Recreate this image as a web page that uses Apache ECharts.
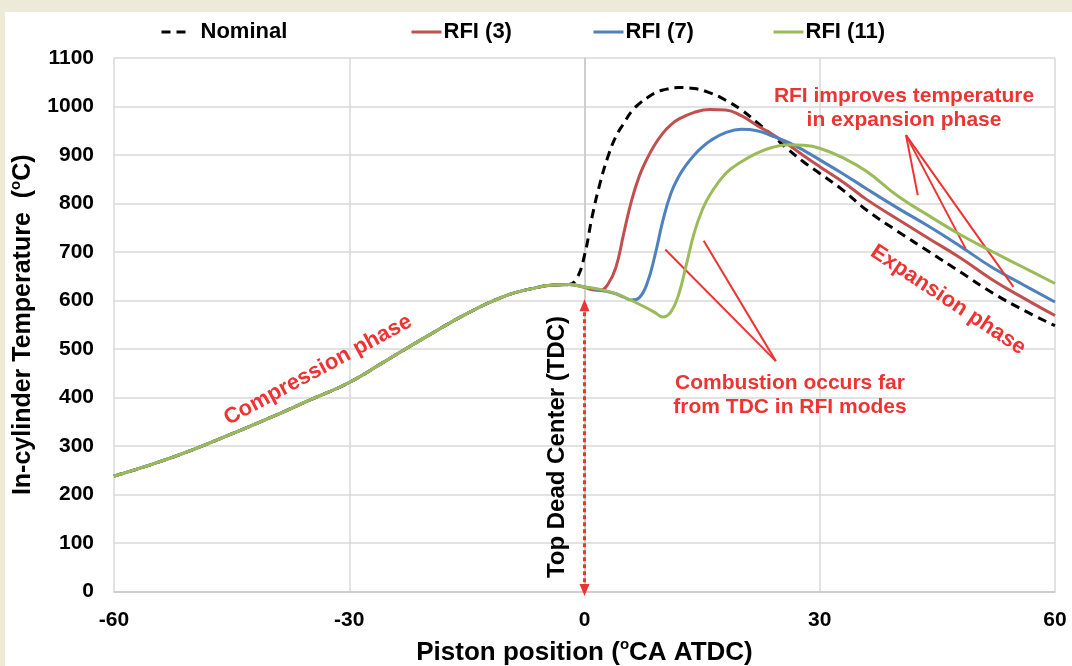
<!DOCTYPE html>
<html>
<head>
<meta charset="utf-8">
<script src="https://cdn.jsdelivr.net/npm/echarts@6/dist/echarts.min.js"></script>
<style>
  html, body { margin: 0; padding: 0; background: #EDEBD8; width: 1072px; height: 666px; overflow: hidden; }
  #chart { position: absolute; left: 5px; top: 12px; width: 1067px; height: 654px; background: #ffffff; }
</style>
</head>
<body>
<div id="chart"></div>
<script>
// ---- Data (crank angle in °CA ATDC, temperature in °C) ----
const xTicks = [-60, -30, 0, 30, 60];

// shared compression stroke (all four cases coincide)
const compAngle = [-60, -55, -50, -45, -40, -35, -30, -25, -20, -15, -10, -6, -4, -2];
const compTemp  = [238, 263, 292, 325, 359, 395, 431, 479, 527, 573, 610, 627, 632, 633];

const nominalAngle = [-1, 0, 1, 2, 3, 4, 5, 6, 7, 8, 9, 10, 12, 14, 16, 18, 20, 22, 24, 26, 28, 30, 33, 36, 40, 44, 48, 52, 56, 60];
const nominalTemp  = [645, 693, 775, 843, 897, 938, 965, 990, 1006, 1018, 1028, 1034, 1039, 1037, 1028, 1013, 993, 967, 940, 911, 885, 862, 827, 786, 742, 700, 658, 616, 580, 548];

const rfi3Angle = [0, 1, 2, 3, 4, 5, 6, 7, 8, 9, 10, 11, 12, 14, 16, 18, 20, 22, 24, 26, 28, 30, 33, 36, 40, 44, 48, 52, 56, 60];
const rfi3Temp  = [627, 622, 621, 634, 668, 738, 806, 857, 893, 922, 945, 962, 974, 988, 994, 993, 981, 961, 942, 921, 898, 876, 844, 808, 767, 727, 687, 643, 605, 569];

const rfi7Angle = [0, 2, 3, 4, 5, 6, 7, 8, 9, 10, 11, 12, 13, 14, 15, 16, 18, 20, 22, 24, 26, 28, 30, 33, 36, 40, 44, 48, 52, 56, 60];
const rfi7Temp  = [628, 621, 618, 614, 607, 601, 606, 636, 694, 765, 820, 855, 880, 900, 916, 929, 946, 953, 950, 939, 926, 909, 890, 861, 830, 790, 752, 711, 668, 632, 597];

const rfi11Angle = [0, 2, 4, 6, 8, 9, 10, 11, 12, 13, 14, 15, 16, 18, 20, 22, 24, 26, 28, 30, 33, 36, 40, 44, 48, 52, 56, 60];
const rfi11Temp  = [628, 623, 614, 600, 584, 575, 566, 576, 612, 675, 740, 786, 818, 862, 886, 904, 916, 921, 920, 914, 894, 866, 815, 774, 735, 701, 668, 635];

// annotation anchor points in data space
const tdcArrow = [[0, 590], [0, 3]];
const rfiPointerFrom = [41, 941];
const rfiPointerTo = [[42.5, 817], [48.6, 707], [54.7, 628]];
const combPointerFrom = [[10.3, 705], [15.2, 723]];
const combPointerTo = [24.4, 475];

// ---- Build ----
function pairs(a1, t1, a2, t2) {
  const out = [];
  for (let i = 0; i < a1.length; i++) out.push([a1[i], t1[i]]);
  for (let i = 0; i < a2.length; i++) out.push([a2[i], t2[i]]);
  return out;
}

const FONT = '"Liberation Sans", Arial, sans-serif';
const RED = '#EE3333';

const chart = echarts.init(document.getElementById('chart'), null, { renderer: 'canvas' });

const annotLines = [];
annotLines.push([
  { coord: tdcArrow[0], symbol: 'triangle', symbolSize: [10, 12], lineStyle: { type: [4, 3], width: 3, color: RED } },
  { coord: tdcArrow[1], symbol: 'triangle', symbolSize: [10, 12] }
]);
rfiPointerTo.forEach(p => annotLines.push([
  { coord: rfiPointerFrom, symbol: 'none', lineStyle: { type: 'solid', width: 2, color: RED } },
  { coord: p, symbol: 'none' }
]));
combPointerFrom.forEach(p => annotLines.push([
  { coord: p, symbol: 'none', lineStyle: { type: 'solid', width: 2, color: RED } },
  { coord: combPointerTo, symbol: 'none' }
]));

const legendCommon = {
  top: 9, itemWidth: 30, itemHeight: 14, itemGap: 5, padding: 0,
  textStyle: { fontFamily: FONT, fontWeight: 'bold', fontSize: 22, color: '#000', padding: [0, 0, 0, -3] },
  itemStyle: { opacity: 0 },
  lineStyle: { width: 3 },
  selectedMode: false
};

const option = {
  animation: false,
  backgroundColor: '#ffffff',
  textStyle: { fontFamily: FONT },
  legend: [
    Object.assign({}, legendCommon, { left: 155, data: ['Nominal'], textStyle: Object.assign({}, legendCommon.textStyle, { padding: [0, 0, 0, 4] }) }),
    Object.assign({}, legendCommon, { left: 405, data: ['RFI (3)'] }),
    Object.assign({}, legendCommon, { left: 587, data: ['RFI (7)'] }),
    Object.assign({}, legendCommon, { left: 767, data: ['RFI (11)'] })
  ],
  grid: { left: 109, right: 17, top: 46, bottom: 74.5, containLabel: false, outerBoundsMode: 'none' },
  xAxis: {
    type: 'value', min: -60, max: 60, interval: 30,
    name: '{t|Piston position (}{s|o}{t|CA ATDC)}',
    nameLocation: 'middle', nameGap: 46,
    nameTextStyle: {
      rich: {
        t: { fontFamily: FONT, fontWeight: 'bold', fontSize: 26, color: '#000', lineHeight: 30 },
        s: { fontFamily: FONT, fontWeight: 'bold', fontSize: 15, color: '#000', verticalAlign: 'top', lineHeight: 30 }
      }
    },
    axisLine: { show: true, lineStyle: { color: '#C8C8C8', width: 1.5 } },
    axisTick: { show: false },
    axisLabel: { fontFamily: FONT, fontWeight: 'bold', fontSize: 21, color: '#000', margin: 18,
      formatter: v => xTicks.includes(v) ? String(v) : '' },
    splitLine: { show: true, lineStyle: { color: '#D9D9D9', width: 1.5 } }
  },
  yAxis: {
    type: 'value', min: 0, max: 1100, interval: 100,
    name: '{t|In-cylinder Temperature  (}{s|o}{t|C)}',
    nameLocation: 'middle', nameGap: 76, nameRotate: 90,
    nameTextStyle: {
      rich: {
        t: { fontFamily: FONT, fontWeight: 'bold', fontSize: 25, color: '#000', lineHeight: 30 },
        s: { fontFamily: FONT, fontWeight: 'bold', fontSize: 15, color: '#000', verticalAlign: 'top', lineHeight: 30 }
      }
    },
    axisLine: { show: true, lineStyle: { color: '#C8C8C8', width: 1.5 } },
    axisTick: { show: false },
    axisLabel: { fontFamily: FONT, fontWeight: 'bold', fontSize: 21, color: '#000', margin: 20,
      formatter: v => String(v) },
    splitLine: { show: true, lineStyle: { color: '#D9D9D9', width: 1.5 } }
  },
  series: [
    {
      name: 'RFI (3)', type: 'line', data: pairs(compAngle, compTemp, rfi3Angle, rfi3Temp),
      showSymbol: false, symbol: 'none', smooth: 0.45, z: 3,
      lineStyle: { color: '#C0504D', width: 3 }, itemStyle: { color: '#C0504D' }
    },
    {
      name: 'RFI (7)', type: 'line', data: pairs(compAngle, compTemp, rfi7Angle, rfi7Temp),
      showSymbol: false, symbol: 'none', smooth: 0.45, z: 4,
      lineStyle: { color: '#4F81BD', width: 3 }, itemStyle: { color: '#4F81BD' }
    },
    {
      name: 'RFI (11)', type: 'line', data: pairs(compAngle, compTemp, rfi11Angle, rfi11Temp),
      showSymbol: false, symbol: 'none', smooth: 0.45, z: 5,
      lineStyle: { color: '#9BBB59', width: 3 }, itemStyle: { color: '#9BBB59' }
    },
    {
      name: 'Nominal', type: 'line', data: pairs(compAngle, compTemp, nominalAngle, nominalTemp),
      showSymbol: false, symbol: 'none', smooth: 0.45, z: 2,
      lineStyle: { color: '#000000', width: 3, type: [9, 6] }, itemStyle: { color: '#000000' }
    },
    {
      name: 'annotations', type: 'line', data: [], silent: true, z: 6,
      markLine: {
        silent: true, animation: false,
        label: { show: false }, emphasis: { disabled: true },
        data: annotLines
      }
    }
  ],
  graphic: [
    { type: 'text', x: 313, y: 358, rotation: 28.4 * Math.PI / 180, z: 100,
      style: { text: 'Compression phase', font: 'bold 22px ' + FONT, fill: RED, align: 'center', verticalAlign: 'middle' } },
    { type: 'text', x: 943, y: 288, rotation: -33.5 * Math.PI / 180, z: 100,
      style: { text: 'Expansion phase', font: 'bold 22px ' + FONT, fill: RED, align: 'center', verticalAlign: 'middle' } },
    { type: 'text', x: 899, y: 84, z: 100,
      style: { text: 'RFI improves temperature', font: 'bold 21px ' + FONT, fill: RED, align: 'center', verticalAlign: 'middle' } },
    { type: 'text', x: 899, y: 108, z: 100,
      style: { text: 'in expansion phase', font: 'bold 21px ' + FONT, fill: RED, align: 'center', verticalAlign: 'middle' } },
    { type: 'text', x: 785, y: 371, z: 100,
      style: { text: 'Combustion occurs far', font: 'bold 21px ' + FONT, fill: RED, align: 'center', verticalAlign: 'middle' } },
    { type: 'text', x: 785, y: 395, z: 100,
      style: { text: 'from TDC in RFI modes', font: 'bold 21px ' + FONT, fill: RED, align: 'center', verticalAlign: 'middle' } },
    { type: 'text', x: 552, y: 435, rotation: Math.PI / 2, z: 100,
      style: { text: 'Top Dead Center (TDC)', font: 'bold 24px ' + FONT, fill: '#000', align: 'center', verticalAlign: 'middle' } }
  ]
};

chart.setOption(option);
</script>
</body>
</html>
